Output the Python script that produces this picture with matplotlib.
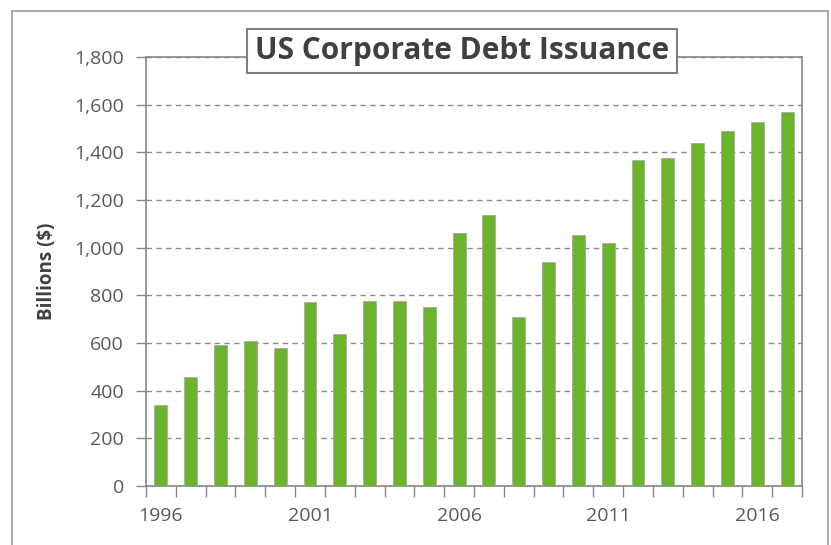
import matplotlib
matplotlib.use("Agg")
import matplotlib.pyplot as plt
from matplotlib.patches import Rectangle

years = list(range(1996, 2018))
issuance = [338, 457, 590, 607, 579, 772, 638, 778, 778, 751, 1060,
            1139, 710, 940, 1053, 1020, 1367, 1378, 1438, 1491, 1529, 1571]
y_ticks = [0, 200, 400, 600, 800, 1000, 1200, 1400, 1600, 1800]
x_label_years = [1996, 2001, 2006, 2011, 2016]

plt.rcParams["font.family"] = ["Open Sans", "DejaVu Sans"]

grey = "#868686"
text_grey = "#595959"

fig = plt.figure(figsize=(8.31, 5.45), dpi=100)
ax = fig.add_axes([146 / 831, 59 / 545, 656 / 831, 429 / 545])

# outer chart border
fig.patches.append(Rectangle((12 / 831, -0.05), 816 / 831, 1.03,
                             transform=fig.transFigure, fill=False,
                             edgecolor="#9a9a9a", linewidth=1.2))

idx = list(range(len(years)))
ax.bar(idx, issuance, width=0.43, color="#6CB42C", edgecolor="#a8a8a8",
       linewidth=0.6, zorder=3)

ax.set_xlim(-0.5, len(years) - 0.5)
ax.set_ylim(0, 1800)
ax.set_yticks(y_ticks)
ax.set_yticklabels([f"{v:,}" for v in y_ticks])

# category boundary ticks, labels at selected years
ax.set_xticks([i - 0.5 for i in range(len(years) + 1)])
ax.set_xticklabels([])
ax.set_xticks([years.index(y) for y in x_label_years], minor=True)
ax.set_xticklabels([str(y) for y in x_label_years], minor=True)
ax.tick_params(axis="x", which="major", length=8, width=1, color=grey)
ax.tick_params(axis="x", which="minor", length=0, pad=15,
               labelsize=14, labelcolor=text_grey)
ax.tick_params(axis="y", length=7, width=1, color=grey, pad=9,
               labelsize=14, labelcolor=text_grey)

for s in ax.spines.values():
    s.set_color(grey)
    s.set_linewidth(1.2)

ax.yaxis.grid(True, linestyle=(0, (4, 3)), color="#8c8c8c", linewidth=1, zorder=0)
ax.set_axisbelow(True)

ax.set_ylabel("Billions ($)", fontsize=13.5, fontweight="bold",
              color="#404040", labelpad=12)

fig.text(462 / 831, 1 - 51 / 545, "US Corporate Debt Issuance",
         ha="center", va="center", fontsize=21.5, fontweight="bold",
         color="#404040",
         bbox=dict(boxstyle="square,pad=0.25", facecolor="white",
                   edgecolor="#7f7f7f", linewidth=1.5))

fig.savefig("out.png", dpi=100)
